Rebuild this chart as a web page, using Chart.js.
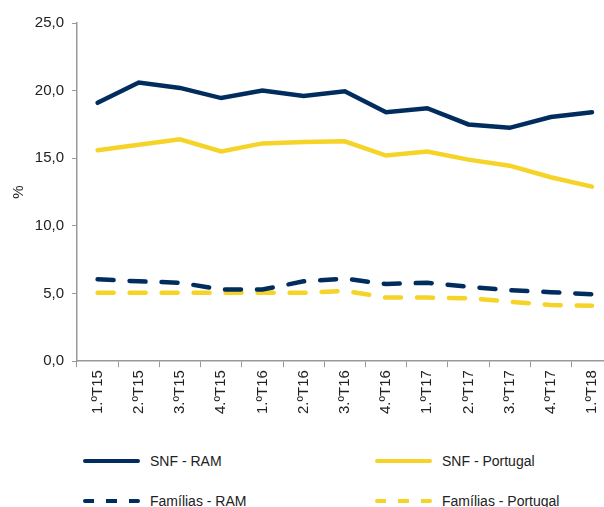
<!DOCTYPE html>
<html>
<head>
<meta charset="utf-8">
<script src="https://cdn.jsdelivr.net/npm/chart.js@4/dist/chart.umd.min.js"></script>
<style>
  html, body { margin: 0; padding: 0; background: #fff; overflow: hidden; }
  #wrap { position: relative; width: 604px; height: 507px; overflow: hidden; }
  canvas { display: block; }
  .legend { position: absolute; left: 0; top: 0; font-family: "Liberation Sans", Arial, sans-serif; font-size: 14px; color: #222; }
  .item { position: absolute; display: flex; align-items: center; white-space: nowrap; }
  .swatch { width: 57px; height: 0; margin-right: 10px; }
</style>
</head>
<body>
<div id="wrap">
  <canvas id="chart" width="613" height="417"></canvas>
  <div class="legend" id="legend"></div>
</div>
<script>
const quarters = ["1.ºT15", "2.ºT15", "3.ºT15", "4.ºT15", "1.ºT16", "2.ºT16", "3.ºT16",
  "4.ºT16", "1.ºT17", "2.ºT17", "3.ºT17", "4.ºT17", "1.ºT18"];
const snfRam = [19.1, 20.6, 20.2, 19.45, 20.0, 19.6, 19.95, 18.4, 18.7, 17.5, 17.25, 18.05, 18.4];
const snfPortugal = [15.6, 16.0, 16.4, 15.5, 16.1, 16.2, 16.25, 15.2, 15.5, 14.9, 14.45, 13.6, 12.9];
const familiasRam = [6.05, 5.9, 5.8, 5.3, 5.3, 5.9, 6.1, 5.7, 5.8, 5.5, 5.25, 5.1, 4.95];
const familiasPortugal = [5.05, 5.05, 5.05, 5.05, 5.05, 5.05, 5.2, 4.7, 4.7, 4.65, 4.4, 4.15, 4.1];
const yTicks = [0, 5, 10, 15, 20, 25];

const navy = "#002d5e";
const yellow = "#f5d327";

const series = [
  { label: "SNF - RAM", data: snfRam, color: navy, dashed: false },
  { label: "SNF - Portugal", data: snfPortugal, color: yellow, dashed: false },
  { label: "Famílias - RAM", data: familiasRam, color: navy, dashed: true },
  { label: "Famílias - Portugal", data: familiasPortugal, color: yellow, dashed: true }
];

const font = { family: "'Liberation Sans', Arial, sans-serif", size: 15 };

new Chart(document.getElementById("chart"), {
  type: "line",
  data: {
    labels: quarters,
    datasets: series.map((s) => ({
      label: s.label,
      data: s.data,
      borderColor: s.color,
      backgroundColor: s.color,
      borderWidth: 4.5,
      borderDash: s.dashed ? [16, 16] : [],
      borderCapStyle: "round",
      pointRadius: 0,
      tension: 0,
      fill: false
    }))
  },
  options: {
    responsive: false,
    animation: false,
    layout: { padding: { top: 23, left: 10, right: 0, bottom: 0 } },
    plugins: { legend: { display: false }, tooltip: { enabled: false } },
    scales: {
      x: {
        offset: true,
        grid: { offset: true, drawOnChartArea: false, tickLength: 6, color: "#999" },
        border: { color: "#999", width: 1.5 },
        ticks: { font: font, color: "#222", minRotation: 90, maxRotation: 90, padding: 3, autoSkip: false }
      },
      y: {
        min: 0,
        max: 25,
        afterFit: (scale) => { scale.width = 67; },
        afterBuildTicks: (scale) => { scale.ticks = yTicks.map((v) => ({ value: v })); },
        grid: { drawOnChartArea: false, tickLength: 5, color: "#999" },
        border: { color: "#999", width: 1.5 },
        ticks: {
          font: font,
          color: "#222",
          padding: 8,
          callback: (v) => v.toFixed(1).replace(".", ",")
        },
        title: { display: true, text: "%", font: font, color: "#222", padding: 0 }
      }
    }
  }
});

// legend in two columns below the chart
const legend = document.getElementById("legend");
const spots = [[83, 462], [375, 462], [83, 502], [375, 502]];
series.forEach((s, i) => {
  const item = document.createElement("div");
  item.className = "item";
  item.style.left = spots[i][0] + "px";
  item.style.top = (spots[i][1] - 9) + "px";
  const sw = document.createElement("div");
  sw.className = "swatch";
  if (s.dashed) {
    sw.style.height = "4px";
    sw.style.borderRadius = "2px";
    sw.style.background = `repeating-linear-gradient(90deg, ${s.color} 0 11px, transparent 11px 23px)`;
  } else {
    sw.style.borderTop = `4px solid ${s.color}`;
    sw.style.borderRadius = "2px";
  }
  const txt = document.createElement("span");
  txt.textContent = s.label;
  item.appendChild(sw);
  item.appendChild(txt);
  legend.appendChild(item);
});
</script>
</body>
</html>
